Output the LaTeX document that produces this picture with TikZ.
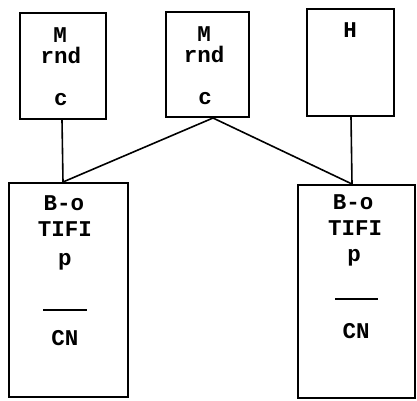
\documentclass[tikz,border=0pt]{standalone}
\usepackage{fontspec}
\setmonofont{Liberation Mono}
\begin{document}
\begin{tikzpicture}[x=1pt,y=-1pt,
  box/.style={draw,line width=2pt,rectangle,inner sep=0pt},
  txt/.style={anchor=base,inner sep=0pt,font=\ttfamily\bfseries\fontsize{22.5}{22.5}\selectfont},
  conn/.style={line width=1.6pt}]
\useasboundingbox (0,0) rectangle (417,400);
% top boxes
\node[box,minimum width=86pt,minimum height=106pt] (b1) at (63,66) {};
\node[box,minimum width=83pt,minimum height=105pt] (b2) at (207.5,64.5) {};
\node[box,minimum width=87pt,minimum height=107pt] (b3) at (350.5,62.5) {};
% bottom boxes
\node[box,minimum width=119pt,minimum height=214pt] (l1) at (68.5,290) {};
\node[box,minimum width=117pt,minimum height=213pt] (l2) at (356.5,291.5) {};
% texts top
\node[txt] (t1a) at (60,42) {M};
\node[txt] (t1b) at (61,63) {rnd};
\node[txt] (t1c) at (61,105) {c};
\node[txt] (t2a) at (204,41) {M};
\node[txt] (t2b) at (204,62) {rnd};
\node[txt] (t2c) at (205,104) {c};
\node[txt] (t3a) at (350,37) {H};
% texts lower left
\node[txt] (l1a) at (64,210) {B-o};
\node[txt] (l1b) at (65,236) {TIFI};
\node[txt] (l1c) at (65,265) {p};
\node[txt] (l1d) at (65,345) {CN};
% texts lower right
\node[txt] (l2a) at (353,209) {B-o};
\node[txt] (l2b) at (355,235) {TIFI};
\node[txt] (l2c) at (354,261) {p};
\node[txt] (l2d) at (356,338) {CN};
% separator lines
\coordinate (s1a) at (43,310); \coordinate (s1b) at (87,310);
\coordinate (s2a) at (335,299); \coordinate (s2b) at (378,299);
\draw[line width=1.5pt] (s1a) -- (s1b);
\draw[line width=1.5pt] (s2a) -- (s2b);
% connectors
\draw[conn] ([xshift=-1pt]b1.south) -- ([xshift=-5.5pt]l1.north);
\draw[conn] ([xshift=5.5pt]b2.south) -- ([xshift=-5.5pt]l1.north);
\draw[conn] ([xshift=5.5pt]b2.south) -- ([xshift=-4.5pt]l2.north);
\draw[conn] ([xshift=0.5pt]b3.south) -- ([xshift=-4.5pt]l2.north);
\end{tikzpicture}
\end{document}
